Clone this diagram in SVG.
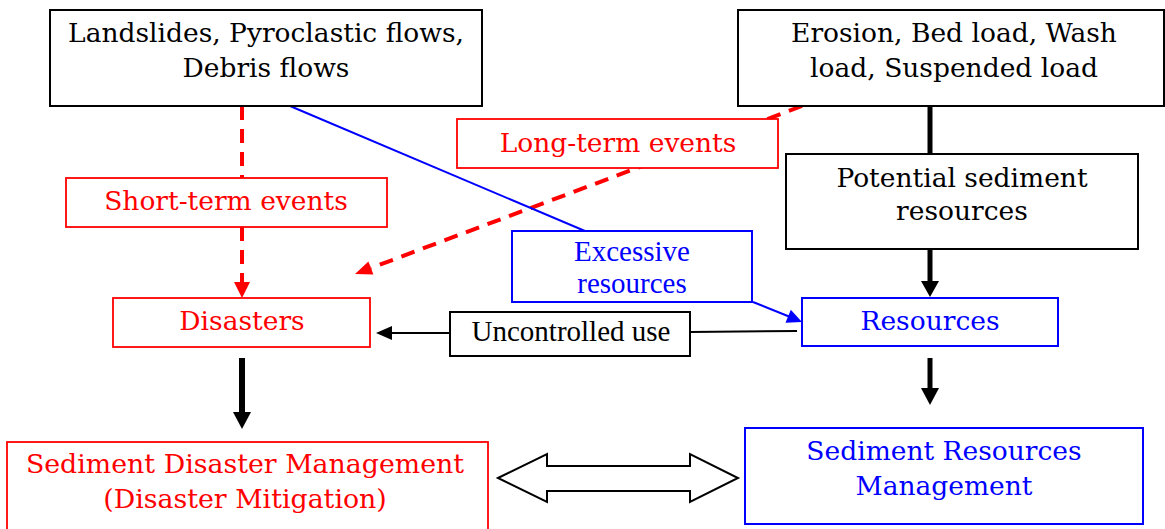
<svg xmlns="http://www.w3.org/2000/svg" width="1165" height="529" viewBox="0 0 1165 529">
<style>
  .bk{fill:#fff;stroke:#000;stroke-width:2}
  .rd{fill:#fff;stroke:#f00;stroke-width:1.8}
  .bl{fill:#fff;stroke:#00f;stroke-width:2}
  text{font-family:"DejaVu Serif","Liberation Serif",serif;font-size:26.5px;text-anchor:middle}
  .tb{fill:#000}
  .tr{fill:#f00}
  .tu{fill:#00f}
  .big{font-size:26.8px}
  .times{font-family:"Liberation Serif",serif;font-size:29px}
  .dash{stroke:#f00;stroke-width:4;stroke-dasharray:14 9;fill:none}
  .thick{stroke:#000;stroke-width:6;fill:none}
  .thin{stroke:#000;stroke-width:2;fill:none}
  .blue{stroke:#00f;stroke-width:2;fill:none}
</style>
<g id="connectors">
  <line class="dash" x1="242" y1="106" x2="242" y2="178"/>
  <line class="dash" x1="242" y1="227" x2="242" y2="284"/>
  <polygon points="234,282 250,282 242,298" fill="#f00"/>
  <line class="dash" x1="802" y1="106" x2="371" y2="268"/>
  <polygon points="355,274 373.4,274.5 368.4,261.5" fill="#f00"/>
  <line class="blue" x1="290" y1="106" x2="585" y2="231"/>
  <line class="blue" x1="753" y1="302" x2="789" y2="316.5"/>
  <polygon points="802,322 785.5,322.8 790.8,309.8" fill="#00f"/>
  <line class="thick" x1="930" y1="106" x2="930" y2="154" style="stroke-width:5"/>
  <line class="thick" x1="930" y1="249" x2="930" y2="283" style="stroke-width:5"/>
  <polygon points="921,281 939,281 930,297" fill="#000"/>
  <line class="thick" x1="930" y1="358" x2="930" y2="390" style="stroke-width:5"/>
  <polygon points="921,388 939,388 930,405" fill="#000"/>
  <line class="thick" x1="242" y1="358" x2="242" y2="414"/>
  <polygon points="233,412 251,412 242,429" fill="#000"/>
  <line class="thin" x1="797" y1="331" x2="690" y2="332"/>
  <line class="thin" x1="450" y1="333" x2="390" y2="333"/>
  <polygon points="376,333 392,326 392,340" fill="#000"/>
  <polygon points="498,478 547,454 547,466 690,466 690,454 738,478 690,502 690,491 547,491 547,502" fill="#fff" stroke="#000" stroke-width="2"/>
</g>
<g id="landslides">
  <rect class="bk" x="50" y="10" width="432" height="96"/>
  <text class="tb" x="266" y="42">Landslides, Pyroclastic flows,</text>
  <text class="tb" x="266" y="77">Debris flows</text>
</g>
<g id="erosion">
  <rect class="bk" x="738" y="10" width="426" height="96"/>
  <text class="tb" x="954" y="42">Erosion, Bed load, Wash</text>
  <text class="tb" x="954" y="77">load, Suspended load</text>
</g>
<g id="long-term">
  <rect class="rd" x="457" y="119" width="321" height="49"/>
  <text class="tr" x="618" y="152">Long-term events</text>
</g>
<g id="potential">
  <rect class="bk" x="786" y="154" width="352" height="95"/>
  <text class="tb" x="962" y="187">Potential sediment</text>
  <text class="tb" x="962" y="220">resources</text>
</g>
<g id="short-term">
  <rect class="rd" x="66" y="178" width="321" height="49"/>
  <text class="tr" x="226" y="210">Short-term events</text>
</g>
<g id="excessive">
  <rect class="bl" x="512" y="231" width="240" height="71"/>
  <text class="tu times" x="632" y="261">Excessive</text>
  <text class="tu times" x="632" y="293">resources</text>
</g>
<g id="disasters">
  <rect class="rd" x="113" y="298" width="257" height="49"/>
  <text class="tr" x="242" y="330">Disasters</text>
</g>
<g id="uncontrolled">
  <rect class="bk" x="450" y="312" width="240" height="44"/>
  <text class="tb times" x="571" y="341">Uncontrolled use</text>
</g>
<g id="resources">
  <rect class="bl" x="802" y="298" width="256" height="48"/>
  <text class="tu" x="930" y="330">Resources</text>
</g>
<g id="sdm">
  <rect class="rd" x="7" y="442" width="481" height="100"/>
  <text class="tr big" x="245" y="473">Sediment Disaster Management</text>
  <text class="tr big" x="245" y="508">(Disaster Mitigation)</text>
</g>
<g id="srm">
  <rect class="bl" x="745" y="428" width="398" height="96"/>
  <text class="tu" x="944" y="460">Sediment Resources</text>
  <text class="tu" x="944" y="495">Management</text>
</g>
</svg>
